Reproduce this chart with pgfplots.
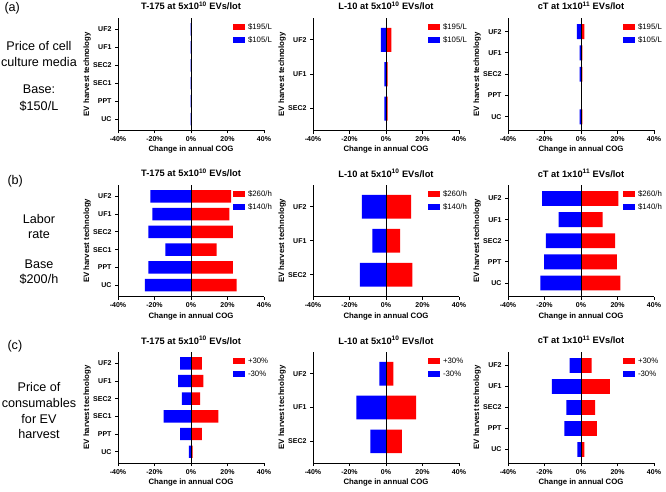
\documentclass[border=0pt]{standalone}
\usepackage{fontspec}
\setmainfont{Liberation Sans}
\usepackage{pgfplots}
\pgfplotsset{compat=1.18}
\definecolor{barred}{RGB}{255,0,0}
\definecolor{barblue}{RGB}{0,0,255}
\newcommand{\tickfont}{\fontsize{7}{8}\selectfont\bfseries}
\newcommand{\labfont}{\fontsize{7.8}{9}\selectfont\bfseries}
\newcommand{\titfont}{\fontsize{9.3}{11}\selectfont\bfseries}
\newcommand{\legfont}{\fontsize{7.8}{9}\selectfont}
\newcommand{\rowfont}{\fontsize{12.6}{15}\selectfont}
\pgfplotsset{
  every axis title shift=0pt,
  tornado/.style={
    scale only axis, width=146pt,
    xbar, bar width=0.7, bar shift=0pt,
    xmin=-40, xmax=40,
    xtick={-40,-20,0,20,40},
    xticklabels={-40\%,-20\%,0\%,20\%,40\%},
    axis lines*=left,
    axis line style={line width=1pt, black},
    tick style={line width=0.9pt, black},
    tick align=outside, major tick length=3pt,
    tick label style={font=\tickfont},
    xlabel={Change in annual COG}, ylabel={EV harvest technology},
    label style={font=\labfont},
    xlabel style={at={(axis description cs:0.5,0)}, anchor=center, yshift=-19.5pt},
    ylabel style={at={(axis description cs:-0.212,0.5)}, anchor=center},
    title style={font=\titfont, at={(axis description cs:0.5,1)}, anchor=base, yshift=8pt},
    legend style={at={(rel axis cs:0.783,0.962)}, anchor=north west, draw=none, fill=none,
      font=\legfont, inner sep=0pt, row sep=3.8pt,
      nodes={inner sep=1pt, text height=5.6pt, text depth=1.6pt},
      /tikz/every odd column/.append style={column sep=2pt}},
    legend cell align=left,
    legend image code/.code={\path[#1,draw=none] (0pt,-3.3pt) rectangle (12.5pt,3.3pt);},
  },
  six/.style={ymin=-0.64, ymax=5.64, ytick={0,...,5}, yticklabels={UC,PPT,SEC1,SEC2,UF1,UF2}},
  three/.style={ymin=-0.64, ymax=2.64, ytick={0,1,2}, yticklabels={SEC2,UF1,UF2}},
  five/.style={ymin=-0.64, ymax=4.64, ytick={0,...,4}, yticklabels={UC,PPT,SEC2,UF1,UF2}},
  redbar/.style={fill=barred, draw=none},
  bluebar/.style={fill=barblue, draw=none},
}
\begin{document}
\begin{tikzpicture}[x=1pt,y=1pt]
\path[use as bounding box] (0,0) rectangle (666,491);

% row labels
\node[anchor=base west, font=\rowfont] at (1,479.2) {(a)};
\node[anchor=base, font=\rowfont] at (39,440.5) {Price of cell};
\node[anchor=base, font=\rowfont] at (39,424.5) {culture media};
\node[anchor=base, font=\rowfont] at (39,397.5) {Base:};
\node[anchor=base, font=\rowfont] at (39,380.5) {\$150/L};

\node[anchor=base west, font=\rowfont] at (4,306.5) {(b)};
\node[anchor=base, font=\rowfont] at (39,267.5) {Labor};
\node[anchor=base, font=\rowfont] at (39,252.5) {rate};
\node[anchor=base, font=\rowfont] at (39,222.5) {Base};
\node[anchor=base, font=\rowfont] at (39,207.5) {\$200/h};

\node[anchor=base west, font=\rowfont] at (4,141.5) {(c)};
\node[anchor=base, font=\rowfont] at (39,99.5) {Price of};
\node[anchor=base, font=\rowfont] at (39,83.5) {consumables};
\node[anchor=base, font=\rowfont] at (39,67.5) {for EV};
\node[anchor=base, font=\rowfont] at (39,52.5) {harvest};

% ---------- Row (a) ----------
\begin{axis}[tornado, six, at={(118pt,360.5pt)}, anchor=south west, height=112.5pt,
  title={T-175 at 5x10\textsuperscript{10} EVs/lot}]
\addplot[redbar] coordinates {(0.2,0) (0.2,1) (0.2,2) (0.2,3) (0.2,4) (0.2,5)};
\addplot[bluebar] coordinates {(-0.2,0) (-0.2,1) (-0.2,2) (-0.2,3) (-0.2,4) (-0.2,5)};
\legend{\$195/L,\$105/L}
\draw[line width=1pt, black] (axis cs:0,-0.64) -- (axis cs:0,5.64);
\end{axis}

\begin{axis}[tornado, three, at={(313pt,360.5pt)}, anchor=south west, height=112.5pt,
  title={L-10 at 5x10\textsuperscript{10} EVs/lot}]
\addplot[redbar] coordinates {(0.9,0) (0.9,1) (3.0,2)};
\addplot[bluebar] coordinates {(-0.9,0) (-0.9,1) (-2.8,2)};
\legend{\$195/L,\$105/L}
\draw[line width=1pt, black] (axis cs:0,-0.64) -- (axis cs:0,2.64);
\end{axis}

\begin{axis}[tornado, five, at={(508pt,360.5pt)}, anchor=south west, height=112.5pt,
  title={cT at 1x10\textsuperscript{11} EVs/lot}]
\addplot[redbar] coordinates {(0.8,0) (0,1) (0.8,2) (0.7,3) (1.8,4)};
\addplot[bluebar] coordinates {(-0.8,0) (0,1) (-0.8,2) (-0.7,3) (-2.2,4)};
\legend{\$195/L,\$105/L}
\draw[line width=1pt, black] (axis cs:0,-0.64) -- (axis cs:0,4.64);
\end{axis}

% ---------- Row (b) ----------
\begin{axis}[tornado, six, at={(118pt,194.5pt)}, anchor=south west, height=111.5pt,
  title={T-175 at 5x10\textsuperscript{10} EVs/lot}]
\addplot[redbar] coordinates {(25,0) (23,1) (14,2) (23,3) (21,4) (22,5)};
\addplot[bluebar] coordinates {(-25.3,0) (-23.3,1) (-14.1,2) (-23.3,3) (-21.1,4) (-22.2,5)};
\legend{\$260/h,\$140/h}
\draw[line width=1pt, black] (axis cs:0,-0.64) -- (axis cs:0,5.64);
\end{axis}

\begin{axis}[tornado, three, at={(313pt,194.5pt)}, anchor=south west, height=111.5pt,
  title={L-10 at 5x10\textsuperscript{10} EVs/lot}]
\addplot[redbar] coordinates {(14.4,0) (7.8,1) (13.7,2)};
\addplot[bluebar] coordinates {(-14.3,0) (-7.5,1) (-13.2,2)};
\legend{\$260/h,\$140/h}
\draw[line width=1pt, black] (axis cs:0,-0.64) -- (axis cs:0,2.64);
\end{axis}

\begin{axis}[tornado, five, at={(508pt,194.5pt)}, anchor=south west, height=111.5pt,
  title={cT at 1x10\textsuperscript{11} EVs/lot}]
\addplot[redbar] coordinates {(21.6,0) (19.6,1) (18.7,2) (11.8,3) (20.5,4)};
\addplot[bluebar] coordinates {(-22.2,0) (-20.2,1) (-19.3,2) (-12.2,3) (-21.3,4)};
\legend{\$260/h,\$140/h}
\draw[line width=1pt, black] (axis cs:0,-0.64) -- (axis cs:0,4.64);
\end{axis}

% ---------- Row (c) ----------
\begin{axis}[tornado, six, at={(118pt,28pt)}, anchor=south west, height=111pt,
  title={T-175 at 5x10\textsuperscript{10} EVs/lot}]
\addplot[redbar] coordinates {(0.9,0) (6,1) (15,2) (5,3) (6.8,4) (5.9,5)};
\addplot[bluebar] coordinates {(-1.1,0) (-6,1) (-15,2) (-5,3) (-7,4) (-6,5)};
\legend{+30\%,-30\%}
\draw[line width=1pt, black] (axis cs:0,-0.64) -- (axis cs:0,5.64);
\end{axis}

\begin{axis}[tornado, three, at={(313pt,28pt)}, anchor=south west, height=111pt,
  title={L-10 at 5x10\textsuperscript{10} EVs/lot}]
\addplot[redbar] coordinates {(8.7,0) (16.5,1) (4.0,2)};
\addplot[bluebar] coordinates {(-8.5,0) (-16.3,1) (-3.7,2)};
\legend{+30\%,-30\%}
\draw[line width=1pt, black] (axis cs:0,-0.64) -- (axis cs:0,2.64);
\end{axis}

\begin{axis}[tornado, five, at={(508pt,28pt)}, anchor=south west, height=111pt,
  title={cT at 1x10\textsuperscript{11} EVs/lot}]
\addplot[redbar] coordinates {(1.8,0) (8.7,1) (7.8,2) (15.8,3) (5.8,4)};
\addplot[bluebar] coordinates {(-2,0) (-9.1,1) (-8,2) (-16,3) (-6.2,4)};
\legend{+30\%,-30\%}
\draw[line width=1pt, black] (axis cs:0,-0.64) -- (axis cs:0,4.64);
\end{axis}
\end{tikzpicture}
\end{document}
